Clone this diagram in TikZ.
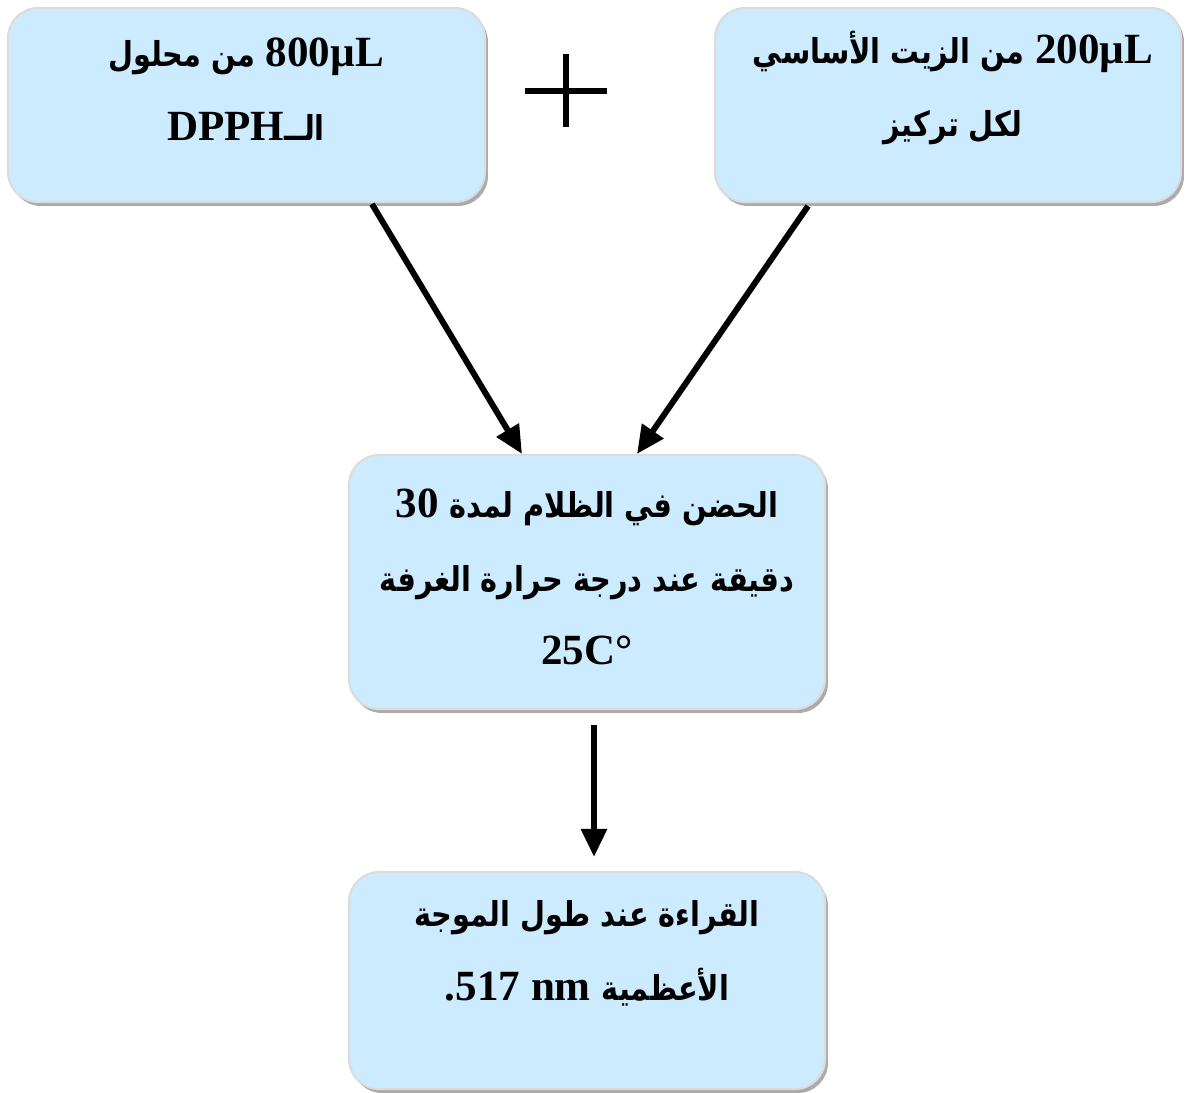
\documentclass[tikz,border=0pt]{standalone}
\usepackage{fontspec}
\setmainfont{Liberation Serif}
\newfontfamily\arabicfont[Script=Arabic, FakeStretch=0.84]{DejaVu Sans}
\TeXXeTstate=1
\usetikzlibrary{positioning, arrows.meta, shadows}

\definecolor{boxfill}{HTML}{CCEBFF}
\definecolor{boxedge}{HTML}{DCDCDC}
\definecolor{boxshadow}{HTML}{ABABAB}

% Arabic run and Latin run inside a right-to-left line
\newcommand{\artxt}[1]{{\arabicfont\fontsize{19.5}{42}\selectfont #1}}
\newcommand{\latxt}[1]{\beginL #1\endL}

\begin{document}
\begin{tikzpicture}[
    x=0.02cm, y=-0.02cm,
    >=Stealth,
    box/.style={draw=boxedge, line width=1.2pt, fill=boxfill, rounded corners=0.6cm,
        drop shadow={shadow xshift=0.06cm, shadow yshift=-0.08cm, fill=boxshadow, opacity=1}},
    txt/.style={align=center, inner sep=0pt, font=\bfseries\fontsize{24.5}{42}\selectfont},
    arr/.style={line width=3.4pt, -{Triangle[length=0.56cm, width=0.5cm]}},
    plusline/.style={line width=3.4pt}
]
    \useasboundingbox (0,0) rectangle (1185,1092);

    % --- Boxes ---
    \node[box, minimum width=9.54cm, minimum height=3.88cm] (dpph) at (246.5,105) {};
    \node[box, minimum width=9.32cm, minimum height=3.88cm] (oil) at (948,105) {};
    \node[box, minimum width=9.52cm, minimum height=5.08cm] (incub) at (587,582) {};
    \node[box, minimum width=9.52cm, minimum height=4.34cm] (reading) at (587,980.5) {};

    % --- Texts ---
    \node[txt] (dpph-t) at (246,89)
        {\beginR\latxt{800µL} \artxt{من محلول}\endR\\
         \beginR\artxt{الــ}\latxt{DPPH}\endR};
    \node[txt] (oil-t) at (953,88)
        {\beginR\latxt{200µL} \artxt{من الزيت الأساسي}\endR\\
         \beginR\artxt{لكل تركيز}\endR};
    \node[txt] (incub-t) at (587,577)
        {\beginR\artxt{الحضن في الظلام لمدة} \latxt{30}\endR\\
         \beginR\artxt{دقيقة عند درجة حرارة الغرفة}\endR\\
         25C°};
    \node[txt] (reading-t) at (587,953)
        {\beginR\artxt{القراءة عند طول الموجة}\endR\\
         \beginR\artxt{الأعظمية} \latxt{517 nm}.\endR};

    % --- Plus sign ---
    \coordinate (plus) at (566,91);
    \draw[plusline] ([xshift=-0.82cm]plus) -- ([xshift=0.82cm]plus);
    \draw[plusline] ([yshift=0.74cm]plus) -- ([yshift=-0.72cm]plus);

    % --- Arrows ---
    \draw[arr] ([xshift=2.51cm, yshift=-0.02cm]dpph.south) -- ([xshift=-1.3cm]incub.north);
    \draw[arr] ([xshift=-2.8cm, yshift=-0.06cm]oil.south) -- ([xshift=1.0cm]incub.north);
    \draw[arr] ([xshift=0.14cm, yshift=-0.3cm]incub.south) -- ([xshift=0.14cm, yshift=0.28cm]reading.north);

\end{tikzpicture}
\end{document}
